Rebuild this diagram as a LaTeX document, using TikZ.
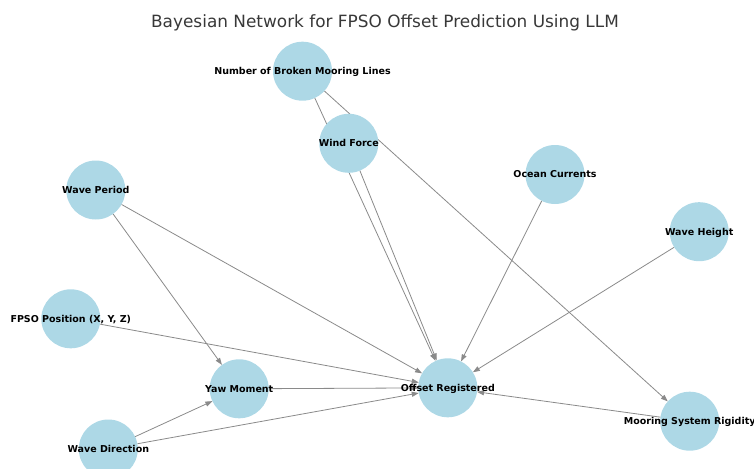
\documentclass[tikz,border=0pt]{standalone}
\usepackage{fontspec}
\setmainfont{DejaVu Sans}
\usetikzlibrary{arrows.meta,backgrounds}
\definecolor{knotenblau}{HTML}{ADD8E6}
\definecolor{kantengrau}{HTML}{8A8A8A}
\tikzset{
	knoten/.style={circle, fill=knotenblau, minimum size=59pt, inner sep=0pt, outer sep=0pt},
	beschriftung/.style={font=\fontsize{9.5}{11}\selectfont\bfseries, text=black,
		text height=6.9pt, text depth=0pt, inner sep=0pt},
	kante/.style={draw=kantengrau, line width=0.8pt, -{Triangle[length=7pt,width=5pt]}}
}
\begin{document}
\begin{tikzpicture}[x=1pt, y=-1pt]
	\useasboundingbox (0,0) rectangle (754,468);
	% Titel
	\node[anchor=base, font=\fontsize{16.9}{20}\selectfont, text=black!78] (titel) at (385,27.3)
		{Bayesian Network for FPSO Offset Prediction Using LLM};
	% Knoten
	\node[knoten, label={[beschriftung]center:Number of Broken Mooring Lines}] (brueche) at (302.5,71.2) {};
	\node[knoten, label={[beschriftung]center:Wind Force}] (wind) at (348.8,143.3) {};
	\node[knoten, label={[beschriftung]center:Ocean Currents}] (stroemung) at (555,174.5) {};
	\node[knoten, label={[beschriftung]center:Wave Period}] (periode) at (95.8,190) {};
	\node[knoten, label={[beschriftung]center:Wave Height}] (hoehe) at (699.2,231.7) {};
	\node[knoten, label={[beschriftung]center:FPSO Position (X, Y, Z)}] (position) at (70.8,318.8) {};
	\node[knoten, label={[beschriftung]center:Yaw Moment}] (gier) at (239.2,388.8) {};
	\node[knoten, label={[beschriftung]center:Offset Registered}] (offset) at (447.8,387.8) {};
	\node[knoten, label={[beschriftung]center:Mooring System Rigidity}] (steifigkeit) at (689.7,421.2) {};
	\node[knoten, label={[beschriftung]center:Wave Direction}] (richtung) at (108.3,449) {};
	% Kanten
	\begin{scope}[on background layer]
		\foreach \von/\nach in {brueche/offset, brueche/steifigkeit, wind/offset,
			stroemung/offset, hoehe/offset, periode/offset, periode/gier,
			position/offset, gier/offset, richtung/gier, richtung/offset,
			steifigkeit/offset}
			\draw[kante] (\von) -- (\nach);
	\end{scope}
\end{tikzpicture}
\end{document}
